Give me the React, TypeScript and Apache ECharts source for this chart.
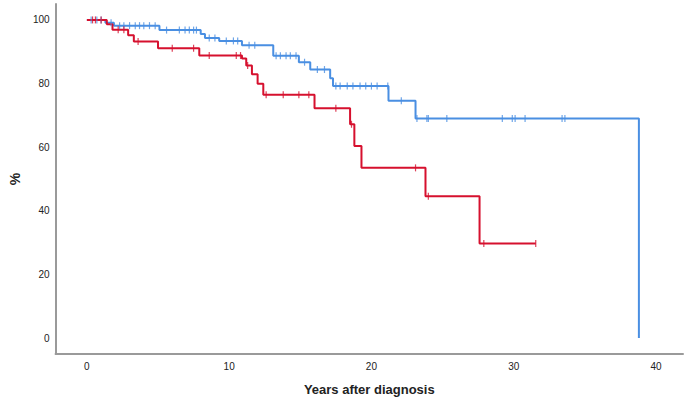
import React, { useEffect, useRef } from "react";
import * as echarts from "echarts";

// Kaplan-Meier step curves: event times (years) and survival (%) after each event
const blueTimes = [0, 1.3, 1.9, 5.1, 8.0, 8.3, 9.3, 10.9, 13.1, 14.9, 15.7, 17.1, 17.3, 21.2, 23.1, 38.8];
const blueSurv = [100, 99.1, 98.2, 96.8, 95.6, 94.3, 93.4, 92.0, 88.7, 86.7, 84.4, 81.7, 79.2, 74.6, 69.0, 0];
const blueCensored = [0.3, 0.7, 1.0, 1.7, 2.3, 2.6, 3.0, 3.4, 3.7, 4.0, 4.4, 4.8, 5.6, 6.5, 6.9, 7.2, 7.5, 7.7, 8.6, 9.0, 9.8, 10.3, 10.6, 11.4, 11.8, 13.3, 13.6, 14.0, 14.3, 14.7, 15.3, 16.2, 16.7, 17.5, 17.8, 18.3, 18.7, 19.2, 19.6, 20.0, 20.4, 21.15, 22.1, 23.2, 23.9, 24.0, 25.3, 29.2, 29.9, 30.1, 30.8, 33.4, 33.6];

const redTimes = [0, 1.4, 1.8, 2.9, 3.3, 5.0, 7.9, 10.9, 11.2, 11.6, 12.0, 12.4, 16.0, 18.5, 18.8, 19.3, 23.8, 27.6, 31.55];
const redSurv = [100, 98.6, 96.9, 95.2, 93.2, 91.1, 88.8, 87.9, 85.7, 82.9, 79.9, 76.5, 72.2, 67.2, 60.4, 53.5, 44.6, 29.7, 29.7];
const redCensored = [0.4, 0.6, 1.0, 2.2, 2.6, 3.6, 6.0, 7.5, 8.6, 10.5, 10.8, 11.3, 12.6, 13.8, 14.9, 15.6, 17.5, 18.6, 23.1, 24.0, 27.9, 31.55];

const xTickLabels = [0, 10, 20, 30, 40];
const yTickLabels = [0, 20, 40, 60, 80, 100];

const BLUE = "#4a8fe2";
const RED = "#d6102e";

function survAt(times: number[], surv: number[], t: number): number {
  let s = surv[0];
  for (let i = 0; i < times.length; i++) {
    if (times[i] <= t) s = surv[i];
  }
  return s;
}

export default function App() {
  const ref = useRef<HTMLDivElement>(null);
  useEffect(() => {
    if (!ref.current) return;
    const chart = echarts.init(ref.current, null, { renderer: "svg" });
    const axisFont = { fontFamily: "Liberation Sans", fontSize: 10, color: "#222" };
    chart.setOption({
      animation: false,
      grid: { left: 43, right: 2, top: 4, bottom: 43 },
      xAxis: {
        type: "value",
        min: -2.2,
        max: 41.9,
        name: "Years after diagnosis",
        nameLocation: "middle",
        nameGap: 29,
        nameTextStyle: { fontFamily: "Liberation Sans", fontSize: 13, fontWeight: "bold", color: "#222" },
        axisLine: { show: true, onZero: false, lineStyle: { color: "#9a9a9a", width: 2 } },
        axisTick: { show: false },
        splitLine: { show: false },
        axisLabel: { ...axisFont, margin: 7, customValues: xTickLabels },
      },
      yAxis: {
        type: "value",
        min: -5,
        max: 105,
        name: "%",
        nameLocation: "middle",
        nameGap: 28,
        nameTextStyle: { fontFamily: "Liberation Sans", fontSize: 14, fontWeight: "bold", color: "#222" },
        axisLine: { show: true, onZero: false, lineStyle: { color: "#9a9a9a", width: 2 } },
        axisTick: { show: false },
        splitLine: { show: false },
        axisLabel: { ...axisFont, margin: 6, customValues: yTickLabels },
      },
      series: [
        {
          type: "line",
          step: "end",
          data: blueTimes.map((t, i) => [t, blueSurv[i]]),
          showSymbol: false,
          lineStyle: { color: BLUE, width: 2 },
          z: 2,
        },
        {
          type: "line",
          step: "end",
          data: redTimes.map((t, i) => [t, redSurv[i]]),
          showSymbol: false,
          lineStyle: { color: RED, width: 2 },
          z: 3,
        },
        {
          type: "scatter",
          data: blueCensored.map((t) => [t, survAt(blueTimes, blueSurv, t)]),
          symbol: "rect",
          symbolSize: [1.2, 7],
          itemStyle: { color: BLUE },
          z: 4,
        },
        {
          type: "scatter",
          data: redCensored.map((t) => [t, survAt(redTimes, redSurv, t)]),
          symbol: "rect",
          symbolSize: [1.2, 7],
          itemStyle: { color: RED },
          z: 5,
        },
      ],
    });
    return () => chart.dispose();
  }, []);
  return <div ref={ref} style={{ width: 685, height: 401, position: "absolute", left: 0, top: 0 }} />;
}
